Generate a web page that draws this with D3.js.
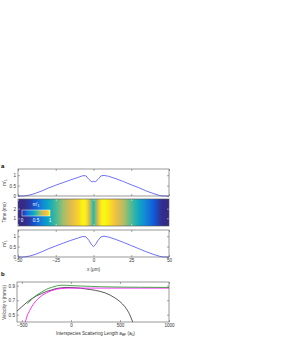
<!DOCTYPE html>
<html>
<head>
<meta charset="utf-8">
<script src="https://cdn.jsdelivr.net/npm/d3@7"></script>
<style>
  body { margin: 0; background: #fff; }
  text { font-family: "Liberation Sans", Arial, sans-serif; }
</style>
</head>
<body>
<script>
// ---- data ----
// panel a, profiles along x (um)
var xPos = [-50, -46, -42, -38, -34, -30, -25, -20, -15, -10, -7, -5, -3, -1.5, -1, 0, 1, 1.5, 3, 5, 7, 10, 15, 20, 25, 30, 35, 40, 44, 46, 50];
var mTop = [0, 0, 0.05, 0.14, 0.25, 0.38, 0.52, 0.65, 0.78, 0.9, 0.98, 0.97, 0.8, 0.7, 0.68, 0.71, 0.68, 0.7, 0.8, 0.97, 0.99, 0.95, 0.83, 0.69, 0.54, 0.4, 0.24, 0.11, 0.02, 0, 0];
var mBottom = [0, 0, 0.05, 0.14, 0.26, 0.39, 0.53, 0.67, 0.8, 0.92, 0.99, 0.97, 0.8, 0.62, 0.57, 0.5, 0.57, 0.62, 0.8, 0.97, 1.0, 0.96, 0.84, 0.7, 0.55, 0.4, 0.25, 0.12, 0.03, 0, 0];

var xTicksA = [-50, -25, 0, 25, 50];
var mTicks = [0, 0.5, 1];
var timeTicks = [1, 2];
var cbarTicks = [0, 0.5, 1];

// panel b, velocity vs interspecies scattering length
var aBlack = [-550, -500, -450, -400, -350, -300, -250, -200, -150, -100, -50, 0, 50, 100, 150, 200, 250, 300, 350, 400, 450, 500, 550, 600, 630];
var vBlack = [0.55, 0.61, 0.67, 0.72, 0.76, 0.79, 0.82, 0.84, 0.86, 0.87, 0.875, 0.873, 0.87, 0.865, 0.855, 0.845, 0.835, 0.82, 0.8, 0.77, 0.73, 0.68, 0.61, 0.5, 0.4];
var aPink = [-465, -450, -420, -400, -350, -300, -250, -200, -150, -100, -50, 0, 100, 300, 500, 700, 1000];
var vPink = [0.4, 0.47, 0.56, 0.61, 0.7, 0.76, 0.8, 0.83, 0.85, 0.86, 0.865, 0.866, 0.866, 0.866, 0.866, 0.866, 0.866];
var aGreen = [-445, -400, -350, -300, -250, -200, -150, -100, -50, 0, 100, 200, 300, 500, 700, 1000];
var vGreen = [0.65, 0.71, 0.77, 0.81, 0.85, 0.875, 0.895, 0.905, 0.905, 0.9, 0.895, 0.89, 0.885, 0.88, 0.878, 0.875];

var aTicks = [-500, 0, 500, 1000];
var vTicks = [0.5, 0.7, 0.9];

// parula-like colormap
var parulaAt = [0, 0.125, 0.25, 0.375, 0.5, 0.625, 0.75, 0.88, 1];
var parulaCol = ["#352a87", "#0f5cdd", "#1481d6", "#06a4ca", "#2eb7a4", "#87bf77", "#d1bb59", "#fbbc3c", "#f9fb0e"];

// ---- setup ----
var svg = d3.select("body").append("svg")
    .attr("width", 287)
    .attr("height", 342);

var frameCol = "#555",
    textCol = "#333",
    blue = "#4b4bff",
    fs = "4.6px",
    fsSub = "3.3px";

var parula = d3.scaleLinear().domain(parulaAt).range(parulaCol).clamp(true);

// draws a MATLAB-like box with inward ticks on all four sides
function box(x, y, xt, yt, xFmt, yFmt, tickCol) {
    var g = svg.append("g");
    var x0 = x.range()[0], x1 = x.range()[1],
        y0 = y.range()[0], y1 = y.range()[1];
    g.append("g").attr("transform", "translate(0," + y0 + ")")
        .call(d3.axisBottom(x).tickValues(xt).tickSize(-2).tickPadding(2).tickFormat(xFmt || ""));
    g.append("g").attr("transform", "translate(0," + y1 + ")")
        .call(d3.axisTop(x).tickValues(xt).tickSize(-2).tickFormat(""));
    g.append("g").attr("transform", "translate(" + x0 + ",0)")
        .call(d3.axisLeft(y).tickValues(yt).tickSize(-2).tickPadding(2).tickFormat(yFmt || ""));
    g.append("g").attr("transform", "translate(" + x1 + ",0)")
        .call(d3.axisRight(y).tickValues(yt).tickSize(-2).tickFormat(""));
    g.selectAll(".domain").remove();
    g.selectAll(".tick line").attr("stroke", tickCol || frameCol).attr("stroke-width", 0.5);
    g.selectAll(".tick text").attr("fill", textCol).style("font-size", fs);
    g.append("rect")
        .attr("x", x0).attr("y", y1)
        .attr("width", x1 - x0).attr("height", y0 - y1)
        .attr("fill", "none").attr("stroke", frameCol).attr("stroke-width", 0.6);
    return g;
}

function mLabel(cx, cy, rotate, fill) {
    var t = svg.append("text")
        .attr("transform", "translate(" + cx + "," + cy + ")" + (rotate ? " rotate(-90)" : ""))
        .attr("text-anchor", "middle")
        .attr("fill", fill || textCol)
        .style("font-size", fs);
    t.append("tspan").text("m′");
    t.append("tspan").attr("dy", 1.2).style("font-size", fsSub).text("1");
    return t;
}

// ---- panel a ----
var x = d3.scaleLinear().domain([-50, 50]).range([18, 169]);
var yTop = d3.scaleLinear().domain([0, 1.3]).range([196, 169]);
var yTime = d3.scaleLinear().domain([0.2, 3.0]).range([226, 199]);
var yBot = d3.scaleLinear().domain([0, 1.3]).range([257, 230]);

var line = function(ys) {
    return d3.line().x(function(d, i) { return x(xPos[i]); }).y(function(d) { return ys(d); });
};

svg.append("path").datum(mTop)
    .attr("d", line(yTop))
    .attr("fill", "none").attr("stroke", blue).attr("stroke-width", 0.8);
box(x, yTop, xTicksA, mTicks, null, d3.format(""));

// heatmap: color stripes along x
var defs = svg.append("defs");
var grad = defs.append("linearGradient")
    .attr("id", "heat")
    .attr("gradientUnits", "userSpaceOnUse")
    .attr("x1", x(-50)).attr("x2", x(50)).attr("y1", 0).attr("y2", 0);
grad.selectAll("stop").data(mBottom).enter().append("stop")
    .attr("offset", function(d, i) { return (x(xPos[i]) - x(-50)) / (x(50) - x(-50)); })
    .attr("stop-color", function(d) { return parula(d); });

svg.append("rect")
    .attr("x", x(-50)).attr("y", yTime(3.0))
    .attr("width", x(50) - x(-50)).attr("height", yTime(0.2) - yTime(3.0))
    .attr("fill", "url(#heat)");

// colorbar inside heatmap
var cb = d3.scaleLinear().domain([0, 1]).range([22, 50]);
var cgrad = defs.append("linearGradient")
    .attr("id", "cbar");
cgrad.selectAll("stop").data(parulaAt).enter().append("stop")
    .attr("offset", function(d) { return d; })
    .attr("stop-color", function(d, i) { return parulaCol[i]; });
svg.append("rect")
    .attr("x", cb(0)).attr("y", 210)
    .attr("width", cb(1) - cb(0)).attr("height", 6)
    .attr("fill", "url(#cbar)")
    .attr("stroke", "#fff").attr("stroke-width", 0.5);
svg.selectAll(".cbt").data(cbarTicks).enter().append("text")
    .attr("x", function(d) { return cb(d); })
    .attr("y", 221.5)
    .attr("text-anchor", "middle")
    .attr("fill", "#fff")
    .style("font-size", fs)
    .text(function(d) { return d; });
mLabel(36, 206, false, "#fff");

box(x, yTime, xTicksA, timeTicks, null, d3.format(""), "#fff");

svg.append("path").datum(mBottom)
    .attr("d", line(yBot))
    .attr("fill", "none").attr("stroke", blue).attr("stroke-width", 0.8);
box(x, yBot, xTicksA, mTicks, d3.format(""), d3.format(""));

// axis labels panel a
mLabel(6, yTop(0.65), true);
svg.append("text")
    .attr("transform", "translate(6," + yTime(1.6) + ") rotate(-90)")
    .attr("text-anchor", "middle").attr("fill", textCol)
    .style("font-size", fs)
    .text("Time (ms)");
mLabel(6, yBot(0.65), true);
svg.append("text")
    .attr("x", x(0)).attr("y", 270.5)
    .attr("text-anchor", "middle").attr("fill", textCol)
    .style("font-size", fs)
    .text("x (μm)");

svg.append("text")
    .attr("x", 1).attr("y", 168)
    .style("font-size", "6px").style("font-weight", "bold")
    .text("a");
svg.append("text")
    .attr("x", 1).attr("y", 276)
    .style("font-size", "6px").style("font-weight", "bold")
    .text("b");

// ---- panel b ----
var xb = d3.scaleLinear().domain([-550, 1000]).range([17, 169]);
var yb = d3.scaleLinear().domain([0.4, 0.95]).range([322, 282]);

svg.append("clipPath").attr("id", "clipb")
    .append("rect").attr("x", 17).attr("y", 282).attr("width", 152).attr("height", 40);

var series = [
    { a: aBlack, v: vBlack, c: "#111", w: 0.7 },
    { a: aPink, v: vPink, c: "#ff00ff", w: 0.8 },
    { a: aGreen, v: vGreen, c: "#3a9a3a", w: 0.9 }
];
var gb = svg.append("g").attr("clip-path", "url(#clipb)");
series.forEach(function(s) {
    gb.append("path").datum(s.v)
        .attr("d", d3.line().curve(d3.curveMonotoneX)
            .x(function(d, i) { return xb(s.a[i]); })
            .y(function(d) { return yb(d); }))
        .attr("fill", "none").attr("stroke", s.c).attr("stroke-width", s.w);
});
box(xb, yb, aTicks, vTicks, d3.format(""), d3.format(".1f"));

svg.append("text")
    .attr("transform", "translate(6," + yb(0.67) + ") rotate(-90)")
    .attr("text-anchor", "middle").attr("fill", textCol)
    .style("font-size", fs)
    .text("Velocity v (mm/s)");

var xl = svg.append("text")
    .attr("x", xb(250)).attr("y", 334.5)
    .attr("text-anchor", "middle").attr("fill", textCol)
    .style("font-size", fs);
xl.append("tspan").text("Interspecies Scattering Length a");
xl.append("tspan").attr("dy", 1.2).style("font-size", fsSub).text("BF");
xl.append("tspan").attr("dy", -1.2).text(" (a");
xl.append("tspan").attr("dy", 1.2).style("font-size", fsSub).text("0");
xl.append("tspan").attr("dy", -1.2).text(")");
</script>
</body>
</html>
